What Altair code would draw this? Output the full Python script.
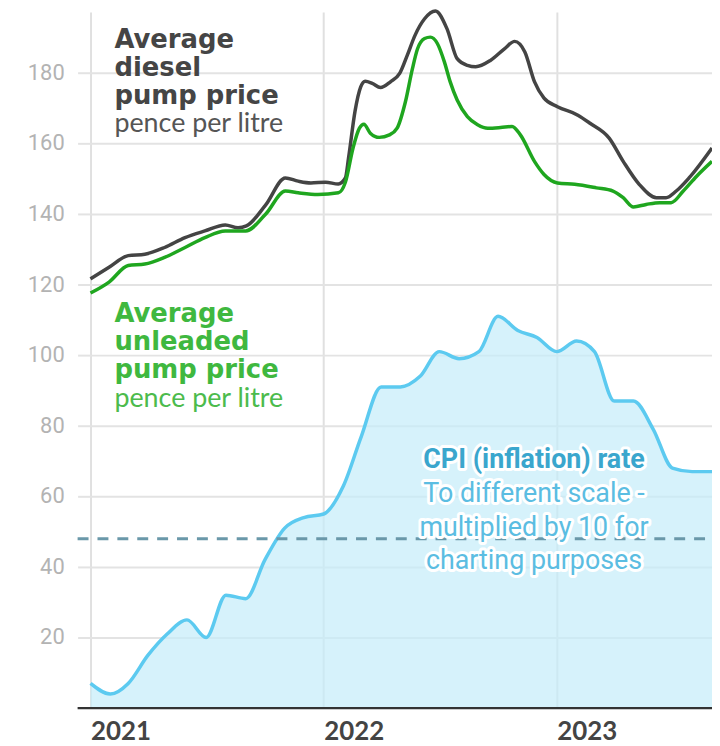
import altair as alt
import pandas as pd

# ---------------- data ----------------
cpi_months = [
    "2021-01-01", "2021-02-01", "2021-03-01", "2021-04-01", "2021-05-01", "2021-06-01",
    "2021-07-01", "2021-08-01", "2021-09-01", "2021-10-01", "2021-11-01", "2021-12-01",
    "2022-01-01", "2022-02-01", "2022-03-01", "2022-04-01", "2022-05-01", "2022-06-01",
    "2022-07-01", "2022-08-01", "2022-09-01", "2022-10-01", "2022-11-01", "2022-12-01",
    "2023-01-01", "2023-02-01", "2023-03-01", "2023-04-01", "2023-05-01", "2023-06-01",
    "2023-07-01", "2023-08-01", "2023-09-01",
]
cpi_x10 = [7, 4, 7, 15, 21, 25, 20, 32, 31, 42, 51, 54,
           55, 63, 77, 91, 91, 94, 101, 99, 101, 111, 107, 105,
           101, 104, 101, 87, 87, 79, 68, 67, 67]

diesel_dates = [
    "2021-01-01", "2021-01-30", "2021-03-01", "2021-03-27", "2021-04-27", "2021-05-29",
    "2021-06-29", "2021-07-31", "2021-08-20", "2021-09-02", "2021-10-02", "2021-11-02",
    "2021-11-22", "2021-12-12", "2022-01-04", "2022-01-24", "2022-02-04", "2022-02-09",
    "2022-02-19", "2022-02-28", "2022-03-07", "2022-03-18", "2022-03-31", "2022-04-16",
    "2022-04-30", "2022-05-12", "2022-05-24", "2022-06-08", "2022-06-25", "2022-07-13",
    "2022-07-29", "2022-08-14", "2022-08-27", "2022-09-19", "2022-10-11", "2022-10-27",
    "2022-11-12", "2022-11-27", "2022-12-12", "2023-01-02", "2023-02-03", "2023-02-22",
    "2023-03-24", "2023-04-15", "2023-05-10", "2023-06-06", "2023-06-21", "2023-07-07",
    "2023-07-27", "2023-09-01",
]
diesel_ppl = [
    121.6, 124.9, 128.2, 128.6, 130.5, 133.3,
    135.2, 136.9, 136.1, 136.6, 142.5, 150.2,
    149.3, 148.8, 149.0, 148.5, 150.2, 155.9,
    169.0, 176.0, 177.6, 177.0, 175.8, 177.5,
    179.8, 185.0, 190.6, 195.3, 197.5, 192.5,
    184.0, 182.1, 181.7, 183.5, 186.8, 188.9,
    185.9, 177.5, 172.8, 170.4, 168.0, 165.7,
    161.5, 154.9, 148.4, 144.6, 144.6, 146.5,
    150.2, 158.7,
]

unleaded_dates = [
    "2021-01-01", "2021-01-30", "2021-03-01", "2021-03-27", "2021-04-27", "2021-05-29",
    "2021-06-29", "2021-07-31", "2021-09-01", "2021-10-02", "2021-11-02", "2021-11-22",
    "2021-12-23", "2022-01-24", "2022-02-04", "2022-02-16", "2022-02-26", "2022-03-05",
    "2022-03-15", "2022-03-29", "2022-04-14", "2022-04-26", "2022-05-09", "2022-05-20",
    "2022-05-28", "2022-06-08", "2022-06-17", "2022-06-28", "2022-07-09", "2022-07-18",
    "2022-07-29", "2022-08-14", "2022-08-30", "2022-09-15", "2022-10-05", "2022-10-23",
    "2022-11-05", "2022-11-27", "2022-12-12", "2023-01-02", "2023-01-29", "2023-03-04",
    "2023-03-30", "2023-04-15", "2023-05-01", "2023-05-21", "2023-06-11", "2023-06-29",
    "2023-07-18", "2023-08-08", "2023-09-01",
]
unleaded_ppl = [
    117.6, 120.7, 125.4, 125.8, 127.7, 130.5,
    133.3, 135.2, 135.2, 139.9, 146.5, 146.0,
    145.5, 146.0, 149.0, 158.7, 164.3, 165.4,
    162.9, 161.7, 162.4, 164.3, 171.8, 181.2,
    186.8, 189.7, 190.1, 188.3, 183.1, 177.5,
    172.3, 167.6, 165.3, 164.3, 164.5, 164.8,
    162.4, 154.9, 151.2, 148.8, 148.4, 147.4,
    146.5, 144.6, 142.0, 142.7, 143.2, 143.2,
    146.5, 150.7, 154.9,
]

dashed_level = [48]
y_ticks = [20, 40, 60, 80, 100, 120, 140, 160, 180]
year_ticks = [2021, 2022, 2023]

diesel_label = ["Average", "diesel", "pump price", "pence per litre"]
unleaded_label = ["Average", "unleaded", "pump price", "pence per litre"]
cpi_label = ["CPI (inflation) rate", "To different scale -",
             "multiplied by 10 for", "charting purposes"]

# ---------------- chart ----------------
W, H = 625, 700

cpi_df = pd.DataFrame({"date": cpi_months, "v": cpi_x10})
diesel_df = pd.DataFrame({"date": diesel_dates, "v": diesel_ppl})
unleaded_df = pd.DataFrame({"date": unleaded_dates, "v": unleaded_ppl})
dash_df = pd.DataFrame({"v": dashed_level})
ytick_df = pd.DataFrame({"v": y_ticks})

xscale = alt.Scale(domain=[alt.DateTime(year=2021, month=1, date=1),
                           alt.DateTime(year=2023, month=9, date=1)])
yscale = alt.Scale(domain=[0, 197.2], nice=False, zero=True)

x_axis = alt.Axis(
    values=[alt.DateTime(year=y, month=1, date=1) for y in year_ticks],
    format="%Y", title=None, domain=False, ticks=False, grid=True,
    labelAlign="left", labelFlush=False, labelOverlap=False,
)
y_axis = alt.Axis(values=y_ticks, title=None, domain=False, ticks=True, grid=True,
                  labels=False)

X = alt.X("date:T", scale=xscale, axis=x_axis)
Y = alt.Y("v:Q", scale=yscale, axis=y_axis)

area = alt.Chart(cpi_df).mark_area(
    interpolate="monotone", color="#c4ecfa", opacity=0.7
).encode(x=X, y=Y)
cpi_line = alt.Chart(cpi_df).mark_line(
    interpolate="monotone", color="#5ccaf0", strokeWidth=3.5
).encode(x=X, y=Y)
dash = alt.Chart(dash_df).mark_rule(
    color="#6a98a9", strokeWidth=3, strokeDash=[11, 9]
).encode(y=Y, x=alt.value(-13), x2=alt.value(W))
baseline = alt.Chart(dash_df).mark_rule(color="#333333", strokeWidth=2.5).encode(
    y=alt.value(H), x=alt.value(-13), x2=alt.value(W)
)
diesel_line = alt.Chart(diesel_df).mark_line(
    interpolate="monotone", color="#444444", strokeWidth=3.5
).encode(x=X, y=Y)
unleaded_line = alt.Chart(unleaded_df).mark_line(
    interpolate="monotone", color="#1fa61f", strokeWidth=3.5
).encode(x=X, y=Y)
# y tick labels drawn through the y scale
ylabels = alt.Chart(ytick_df).mark_text(
    align="right", baseline="middle", font="Roboto", fontSize=22, color="#b3b3b3"
).encode(y=Y, x=alt.value(-26), text=alt.Text("v:Q", format="d"))


def text_layer(txt, x, y, font, size, weight, color, align="left", halo=False):
    df = pd.DataFrame({"t": [txt]})
    kw = dict(font=font, fontSize=size, fontWeight=weight, align=align,
              baseline="alphabetic")
    layers = []
    if halo:
        layers.append(alt.Chart(df).mark_text(
            color="white", stroke="white", strokeWidth=6, strokeJoin="round", **kw
        ).encode(text="t:N", x=alt.value(x), y=alt.value(y)))
    layers.append(alt.Chart(df).mark_text(color=color, **kw).encode(
        text="t:N", x=alt.value(x), y=alt.value(y)))
    return layers


texts = []
for i, line in enumerate(diesel_label[:3]):
    texts += text_layer(line, 24, 36 + 28 * i, "DejaVu Sans", 26, "bold", "#454545")
texts += text_layer(diesel_label[3], 24, 121, "Lato", 27, "normal", "#555555")
for i, line in enumerate(unleaded_label[:3]):
    texts += text_layer(line, 24, 312 + 28 * i, "DejaVu Sans", 26, "bold", "#3fb83f")
texts += text_layer(unleaded_label[3], 24, 397, "Lato", 27, "normal", "#4cbb4c")
cpi_y = [459, 493, 527, 560]
texts += text_layer(cpi_label[0], 446, cpi_y[0], "Roboto", 27, "bold", "#3aa6cd",
                    align="center", halo=True)
for i in range(1, 4):
    texts += text_layer(cpi_label[i], 446, cpi_y[i], "Roboto", 27, "normal", "#5bbde2",
                        align="center", halo=True)

chart = alt.layer(
    area, cpi_line, dash, baseline, diesel_line, unleaded_line, ylabels, *texts
).properties(
    width=W, height=H,
    autosize=alt.AutoSizeParams(type="none"),
    padding={"left": 83, "top": 2, "right": 0, "bottom": 36},
).configure_view(
    stroke=None
).configure_axisX(
    gridColor="#e0e0e0", gridWidth=2,
    labelFont="Lato", labelFontSize=26, labelFontWeight="bold",
    labelColor="#444444", labelPadding=11,
).configure_axisY(
    tickSize=13, tickColor="#e3e3e3", tickWidth=2,
    gridColor="#e3e3e3", gridWidth=2,
)

chart.save("out.html", embed_options={"renderer": "svg", "actions": False})
